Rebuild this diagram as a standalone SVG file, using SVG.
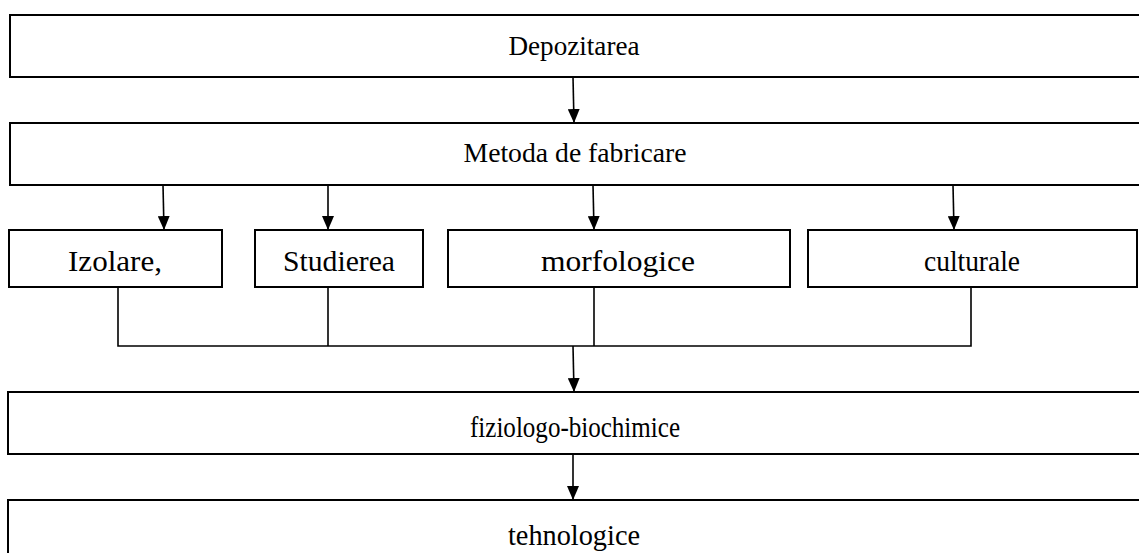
<svg xmlns="http://www.w3.org/2000/svg" width="1139" height="553" viewBox="0 0 1139 553">
<style>
.box{fill:#fff;stroke:#000;stroke-width:2}
text{font-family:'Liberation Serif','Times New Roman',serif;fill:#000;text-anchor:middle}
.s{font-size:27px}
.l{font-size:30px}
.c{fill:none;stroke:#000;stroke-width:1.6}
</style>
<defs>
<marker id="ah" markerWidth="14" markerHeight="12" refX="14" refY="6" orient="auto" markerUnits="userSpaceOnUse" viewBox="0 0 14 12">
<path d="M0,0 L14,6 L0,12 Z" fill="#000"/>
</marker>
</defs>
<g id="n-depozitarea"><rect class="box" x="10" y="15" width="1140" height="62"/><text class="s" x="574" y="55" textLength="131" lengthAdjust="spacingAndGlyphs">Depozitarea</text></g>
<g id="n-metoda"><rect class="box" x="10" y="123" width="1140" height="62"/><text class="s" x="575" y="162" textLength="223" lengthAdjust="spacingAndGlyphs">Metoda de fabricare</text></g>
<g id="n-izolare"><rect class="box" x="9" y="230" width="213" height="57"/><text class="l" x="115" y="271" textLength="94" lengthAdjust="spacingAndGlyphs">Izolare,</text></g>
<g id="n-studierea"><rect class="box" x="255" y="230" width="168" height="57"/><text class="l" x="339" y="271" textLength="112" lengthAdjust="spacingAndGlyphs">Studierea</text></g>
<g id="n-morfologice"><rect class="box" x="448" y="230" width="342" height="57"/><text class="l" x="618" y="271" textLength="154" lengthAdjust="spacingAndGlyphs">morfologice</text></g>
<g id="n-culturale"><rect class="box" x="808" y="230" width="329" height="57"/><text class="l" x="972" y="271" textLength="96" lengthAdjust="spacingAndGlyphs">culturale</text></g>
<g id="n-fiziologo"><rect class="box" x="8" y="392" width="1140" height="62"/><text class="l" x="575" y="437" textLength="210" lengthAdjust="spacingAndGlyphs">fiziologo-biochimice</text></g>
<g id="n-tehnologice"><rect class="box" x="8" y="500" width="1140" height="70"/><text class="l" x="574" y="545" textLength="132" lengthAdjust="spacingAndGlyphs">tehnologice</text></g>
<g id="connectors">
<line class="c" x1="573" y1="77" x2="574" y2="123" marker-end="url(#ah)"/>
<line class="c" x1="163" y1="185" x2="164" y2="230" marker-end="url(#ah)"/>
<line class="c" x1="328" y1="185" x2="328" y2="230" marker-end="url(#ah)"/>
<line class="c" x1="593" y1="185" x2="594" y2="230" marker-end="url(#ah)"/>
<line class="c" x1="953" y1="185" x2="954" y2="230" marker-end="url(#ah)"/>
<polyline class="c" points="118,287 118,346 971,346 971,287"/>
<line class="c" x1="328" y1="287" x2="328" y2="346"/>
<line class="c" x1="594" y1="287" x2="594" y2="346"/>
<line class="c" x1="573" y1="346" x2="574" y2="392" marker-end="url(#ah)"/>
<line class="c" x1="573" y1="454" x2="573" y2="500" marker-end="url(#ah)"/>
</g>
</svg>
